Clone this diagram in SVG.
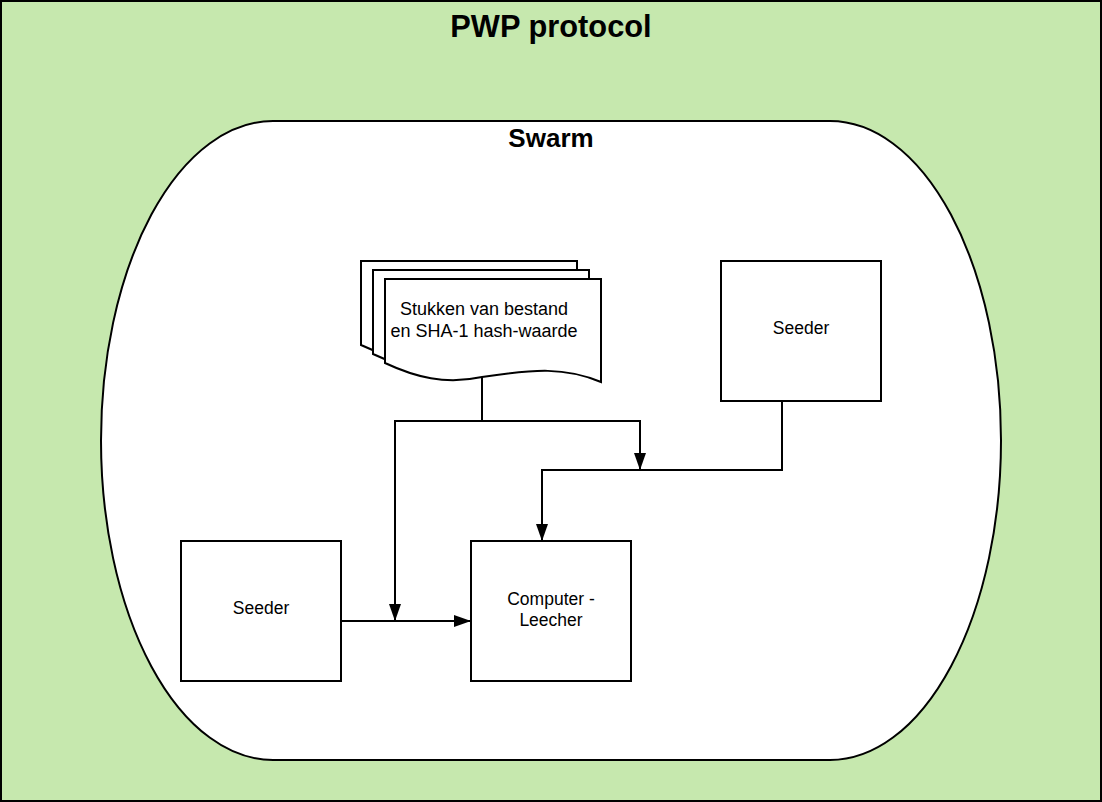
<svg xmlns="http://www.w3.org/2000/svg" width="1102" height="802" viewBox="0 0 1102 802">
<style>
.box{fill:#ffffff;stroke:#000000;stroke-width:2}
.edge{fill:none;stroke:#000000;stroke-width:2}
.t{font-family:"Liberation Sans",Arial,sans-serif;fill:#000000;text-anchor:middle}
.lbl{font-size:17.5px}
</style>
<defs>
<marker id="arr" markerUnits="userSpaceOnUse" markerWidth="18" markerHeight="12" refX="17" refY="6" orient="auto">
<path d="M0,0 L17,6 L0,12 Z" fill="#000000"/>
</marker>
<path id="doc" d="M0,0 H216 V103 C180,88 150,90 97,98 C60,106 30,98 0,84 Z"/>
</defs>
<g id="pwp-protocol">
<rect x="1" y="1" width="1100" height="800" fill="#c6e8ae" stroke="#000000" stroke-width="2"/>
<text class="t" x="551" y="37" font-size="30.8" font-weight="bold">PWP protocol</text>
</g>
<g id="swarm">
<path class="box" d="M273,121 H830 A171,319.5 0 0 1 830,760 H273 A172,319.5 0 0 1 273,121 Z"/>
<text class="t" x="551" y="147" font-size="26" font-weight="bold">Swarm</text>
</g>
<g id="connectors">
<path class="edge" d="M482,377 V421 H640 V470" marker-end="url(#arr)"/>
<path class="edge" d="M482,421 H395 V621" marker-end="url(#arr)"/>
<path class="edge" d="M782,401 V470 H542 V541" marker-end="url(#arr)"/>
<path class="edge" d="M341,621 H471" marker-end="url(#arr)"/>
</g>
<g id="documents">
<use href="#doc" x="361" y="261" class="box"/>
<use href="#doc" x="373" y="270" class="box"/>
<use href="#doc" x="385" y="279" class="box"/>
<text class="t" x="484" y="315" font-size="18">Stukken van bestand</text>
<text class="t" x="484" y="337" font-size="18">en SHA-1 hash-waarde</text>
</g>
<g id="seeder-right">
<rect class="box" x="721" y="261" width="160" height="140"/>
<text class="t lbl" x="801" y="334">Seeder</text>
</g>
<g id="seeder-left">
<rect class="box" x="181" y="541" width="160" height="140"/>
<text class="t lbl" x="261" y="614">Seeder</text>
</g>
<g id="computer-leecher">
<rect class="box" x="471" y="541" width="160" height="140"/>
<text class="t lbl" x="551" y="605">Computer -</text>
<text class="t lbl" x="551" y="626">Leecher</text>
</g>
</svg>
